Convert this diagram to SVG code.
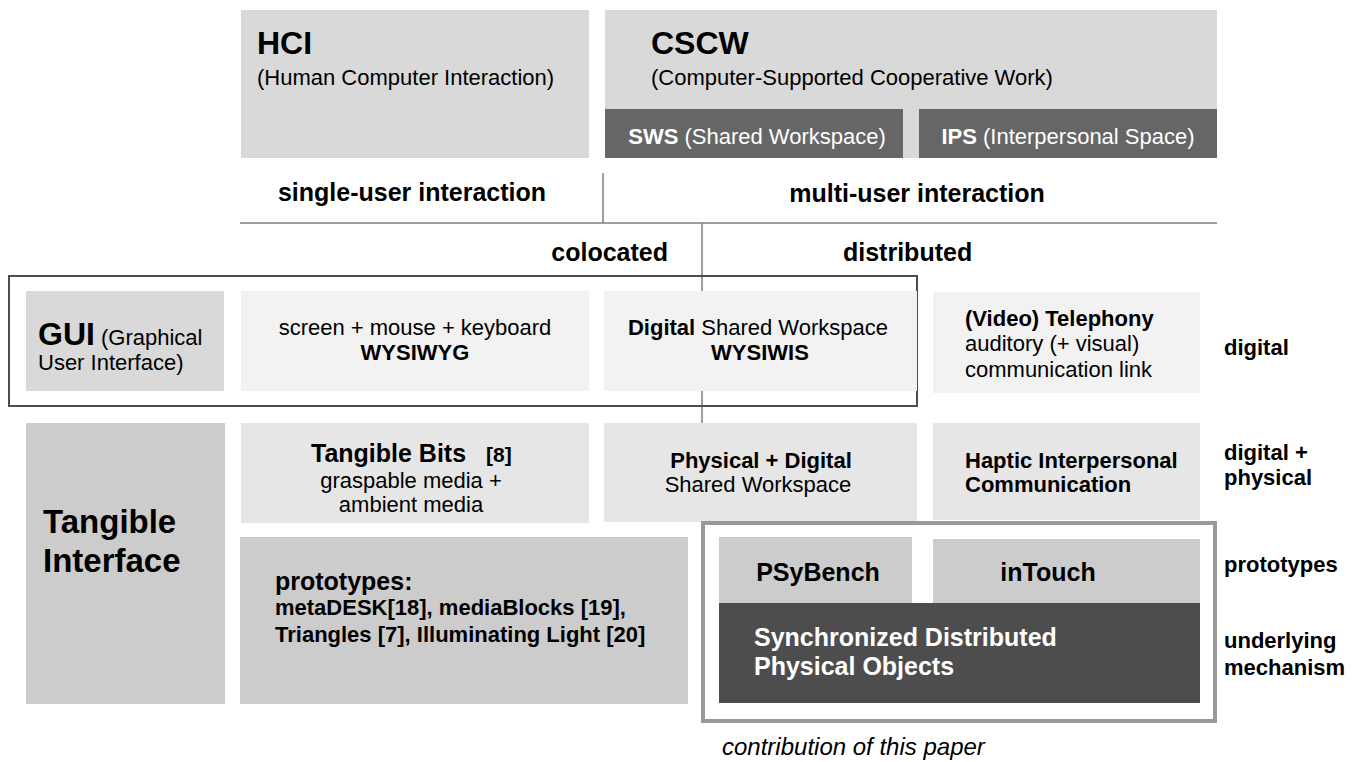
<svg xmlns="http://www.w3.org/2000/svg" width="1359" height="762" viewBox="0 0 1359 762">
<style>
text{font-family:"Liberation Sans",Arial,Helvetica,sans-serif;fill:#000}
.b{font-weight:bold}
.t32{font-size:32px;font-weight:bold}
.t22{font-size:22px}
.t25{font-size:25px;font-weight:bold}
.w{fill:#fff}
.c{text-anchor:middle}
.l1{fill:#d9d9d9}
.l2{fill:#f2f2f2}
.l3{fill:#e6e6e6}
.l4{fill:#cccccc}
.d1{fill:#666666}
.d2{fill:#4d4d4d}
.ln{stroke:#7f7f7f;stroke-width:1.5;fill:none}
</style>
<rect width="1359" height="762" fill="#fff"/>
<g id="connectors">
<line class="ln" x1="603" y1="173" x2="603" y2="223"/>
<line class="ln" x1="240" y1="223" x2="1217" y2="223"/>
<line class="ln" x1="702" y1="223" x2="702" y2="423"/>
</g>
<g id="hci">
<rect class="l1" x="241" y="10" width="348" height="148"/>
<text class="t32" x="257" y="54">HCI</text>
<text class="t22" x="257" y="85">(Human Computer Interaction)</text>
</g>
<g id="cscw">
<rect class="l1" x="605" y="10" width="612" height="148"/>
<text class="t32" x="651" y="54">CSCW</text>
<text class="t22" x="651" y="85">(Computer-Supported Cooperative Work)</text>
</g>
<g id="sws">
<rect class="d1" x="605" y="109" width="298" height="49"/>
<text class="t22 w c" x="757" y="144"><tspan class="b">SWS</tspan> (Shared Workspace)</text>
</g>
<g id="ips">
<rect class="d1" x="919" y="109" width="298" height="49"/>
<text class="t22 w c" x="1068" y="144"><tspan class="b">IPS</tspan> (Interpersonal Space)</text>
</g>
<g id="headings">
<text class="t25 c" x="412" y="201">single-user interaction</text>
<text class="t25 c" x="917" y="202">multi-user interaction</text>
<text class="t25" x="668" y="261" text-anchor="end">colocated</text>
<text class="t25" x="843" y="261">distributed</text>
</g>
<g id="gui-frame">
<rect x="9" y="276" width="908" height="130" fill="none" stroke="#4d4d4d" stroke-width="2"/>
</g>
<g id="gui">
<rect class="l1" x="26" y="291" width="198" height="100"/>
<text x="38" y="345"><tspan class="t32">GUI</tspan><tspan class="t22"> (Graphical</tspan></text>
<text class="t22" x="38" y="370">User Interface)</text>
</g>
<g id="wysiwyg">
<rect class="l2" x="241" y="291" width="348" height="100"/>
<text class="t22 c" x="415" y="335">screen + mouse + keyboard</text>
<text class="t22 b c" x="415" y="360">WYSIWYG</text>
</g>
<g id="wysiwis">
<rect class="l2" x="604" y="291" width="313" height="100"/>
<text class="t22 c" x="758" y="335"><tspan class="b">Digital</tspan> Shared Workspace</text>
<text class="t22 b c" x="760" y="360">WYSIWIS</text>
</g>
<g id="telephony">
<rect class="l2" x="933" y="292" width="267" height="101"/>
<text class="t22 b" x="965" y="326">(Video) Telephony</text>
<text class="t22" x="965" y="351">auditory (+ visual)</text>
<text class="t22" x="965" y="377">communication link</text>
</g>
<g id="label-digital">
<text class="t22 b" x="1224" y="355">digital</text>
</g>
<g id="tangible">
<rect class="l4" x="26" y="423" width="199" height="281"/>
<text class="b" font-size="33" x="43" y="533">Tangible</text>
<text class="b" font-size="33" x="43" y="572">Interface</text>
</g>
<g id="tangible-bits">
<rect class="l3" x="241" y="423" width="348" height="100"/>
<text class="t25" x="311" y="462">Tangible Bits</text>
<text class="b" font-size="21" x="486" y="462">[8]</text>
<text class="t22 c" x="411" y="488">graspable media +</text>
<text class="t22 c" x="411" y="512">ambient media</text>
</g>
<g id="phys-digital">
<rect class="l3" x="604" y="423" width="313" height="99"/>
<text class="t22 b c" x="761" y="468">Physical + Digital</text>
<text class="t22 c" x="758" y="492">Shared Workspace</text>
</g>
<g id="haptic">
<rect class="l3" x="933" y="423" width="267" height="97"/>
<text class="t22 b" x="965" y="468">Haptic Interpersonal</text>
<text class="t22 b" x="965" y="492">Communication</text>
</g>
<g id="label-dp">
<text class="t22 b" x="1224" y="460">digital +</text>
<text class="t22 b" x="1224" y="485">physical</text>
</g>
<g id="prototypes">
<rect class="l4" x="240" y="537" width="448" height="167"/>
<text class="t25" x="275" y="590">prototypes:</text>
<text class="t22 b" x="275" y="615">metaDESK[18], mediaBlocks [19],</text>
<text class="t22 b" x="275" y="642">Triangles [7], Illuminating Light [20]</text>
</g>
<g id="contribution">
<rect x="703" y="523" width="512" height="198" fill="#fff" stroke="#999" stroke-width="4"/>
<text font-size="24" font-style="italic" x="722" y="755">contribution of this paper</text>
</g>
<g id="psybench">
<rect class="l4" x="719" y="537" width="193" height="66"/>
<text class="t25 c" x="818" y="581">PSyBench</text>
</g>
<g id="intouch">
<rect class="l4" x="933" y="539" width="267" height="64"/>
<text class="t25 c" x="1048" y="581">inTouch</text>
</g>
<g id="sdpo">
<rect class="d2" x="719" y="603" width="481" height="100"/>
<text class="t25 w" x="754" y="646">Synchronized Distributed</text>
<text class="t25 w" x="754" y="675">Physical Objects</text>
</g>
<g id="labels-right">
<text class="t22 b" x="1224" y="572">prototypes</text>
<text class="t22 b" x="1224" y="648">underlying</text>
<text class="t22 b" x="1224" y="675">mechanism</text>
</g>
</svg>
